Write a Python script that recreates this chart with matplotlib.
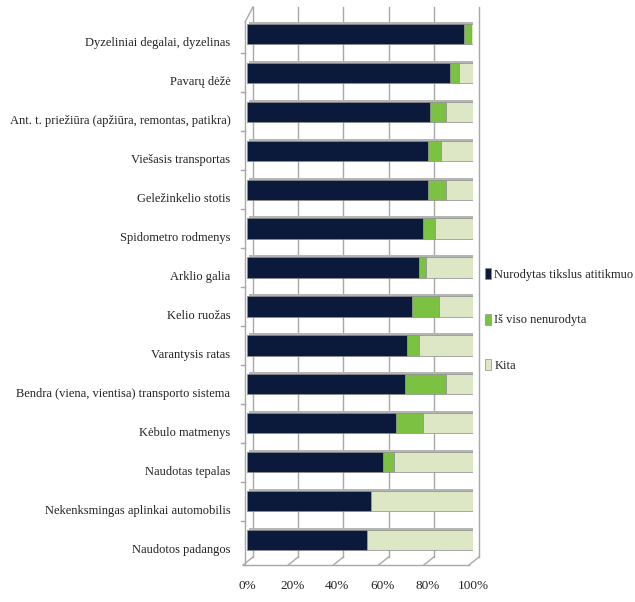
import matplotlib
matplotlib.use("Agg")
import matplotlib.pyplot as plt
import matplotlib.transforms as mtransforms
import numpy as np

# Kategorijos (iš viršaus į apačią) ir dalys procentais
kategorijos = [
    "Dyzeliniai degalai, dyzelinas",
    "Pavarų dėžė",
    "Ant. t. priežiūra (apžiūra, remontas, patikra)",
    "Viešasis transportas",
    "Geležinkelio stotis",
    "Spidometro rodmenys",
    "Arklio galia",
    "Kelio ruožas",
    "Varantysis ratas",
    "Bendra (viena, vientisa) transporto sistema",
    "Kėbulo matmenys",
    "Naudotas tepalas",
    "Nekenksmingas aplinkai automobilis",
    "Naudotos padangos",
]
tikslus = [96, 90, 81, 80, 80, 78, 76, 73, 71, 70, 66, 60, 55, 53]
nenurodyta = [3, 4, 7, 6, 8, 5, 3, 12, 5, 18, 12, 5, 0, 0]
kita = [1, 6, 12, 14, 12, 17, 21, 15, 24, 12, 22, 35, 45, 47]

serijos = ["Nurodytas tikslus atitikmuo", "Iš viso nenurodyta", "Kita"]
spalvos = ["#0b1a3b", "#7cc242", "#dde7c6"]
x_ticks = [0, 20, 40, 60, 80, 100]
x_zymes = ["0%", "20%", "40%", "60%", "80%", "100%"]

plt.rcParams['font.family'] = ['Liberation Serif', 'DejaVu Serif']

W, H = 635, 602
fig = plt.figure(figsize=(W / 100, H / 100), dpi=100)
ax = fig.add_axes([247 / W, 1 - 559.5 / H, 226 / W, 545 / H])
ax.set_xlim(0, 100)
ax.set_ylim(len(kategorijos) - 0.5, -0.5)

y = np.arange(len(kategorijos))
kaire = np.zeros(len(kategorijos))
seselis = ax.transData + mtransforms.ScaledTranslation(2 / 100, 2 / 100, fig.dpi_scale_trans)
for reiksmes, pav, spalva in zip([tikslus, nenurodyta, kita], serijos, spalvos):
    ax.barh(y, reiksmes, left=kaire, height=0.52, color=spalva,
            edgecolor="#8c8c8c", linewidth=0.5, label=pav, zorder=3)
    kaire += np.array(reiksmes)
# šešėlis / gylis už stulpelių
ax.barh(y, kaire, height=0.52, color="#b5b5b5", transform=seselis, zorder=2)

# 3D sienelės: galinė sienelė su tinkleliu, grindys ir kairė sienelė
px = 100 / 226  # vienas taškas duomenų vienetais
blend = mtransforms.blended_transform_factory(ax.transData, ax.transAxes)
virsus, apacia, priekis = 1.0138, 0.0046, -0.0101
for xv in x_ticks:
    ax.plot([xv + 6 * px, xv + 6 * px], [virsus, apacia], transform=blend,
            color="#a8a8a8", lw=1.0, clip_on=False, zorder=1)
    ax.plot([xv + 6 * px, xv - 4 * px], [apacia, priekis], transform=blend,
            color="#a8a8a8", lw=1.0, clip_on=False, zorder=1)
ax.plot([-4 * px, 100 - 4 * px], [priekis, priekis], transform=blend,
        color="#a8a8a8", lw=1.0, clip_on=False, zorder=1)
ax.plot([-2 * px, -2 * px], [0.986, priekis], transform=blend,
        color="#a8a8a8", lw=1.0, clip_on=False, zorder=1)
ax.plot([-2 * px, 6 * px], [0.986, virsus], transform=blend,
        color="#a8a8a8", lw=1.0, clip_on=False, zorder=1)
riba = mtransforms.blended_transform_factory(ax.transData, ax.transData)
for r in y[:-1] + 0.5:
    ax.plot([-6 * px, -2 * px], [r, r], transform=riba,
            color="#a8a8a8", lw=1.0, clip_on=False, zorder=1)

for s in ax.spines.values():
    s.set_visible(False)
ax.set_facecolor("none")

ax.set_yticks(y)
ax.set_yticklabels(kategorijos, fontsize=9, color="#222222")
ax.set_xticks(x_ticks)
ax.set_xticklabels(x_zymes, fontsize=9.5, color="#222222")
ax.tick_params(axis="y", length=0, pad=12)
ax.tick_params(axis="x", length=0, pad=15)
poslinkis = mtransforms.ScaledTranslation(0, -8 / 100, fig.dpi_scale_trans)
for t in ax.get_yticklabels():
    t.set_transform(t.get_transform() + poslinkis)

fig.legend(loc="center left", bbox_to_anchor=(480 / W, 1 - 320 / H),
           frameon=False, fontsize=9, handlelength=0.45, handleheight=1.0,
           handletextpad=0.3, labelspacing=2.6, borderaxespad=0,
           labelcolor="#222222")

fig.savefig("out.png", dpi=100)
